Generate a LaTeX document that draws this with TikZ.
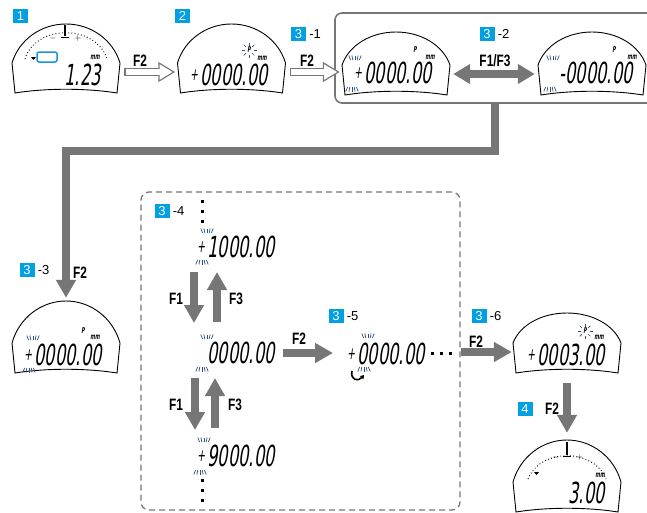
\documentclass[tikz,border=0pt]{standalone}
\usepackage{fontspec}
\setmainfont{Liberation Sans}
\newfontfamily\lcdfont[FakeStretch=0.56,FakeSlant=0.15]{DejaVu Sans}
\newfontfamily\keyfont[FakeStretch=0.72]{Liberation Sans}
\usetikzlibrary{arrows.meta,positioning,calc}

\definecolor{stepblue}{RGB}{0,160,227}
\definecolor{arrowgray}{RGB}{118,118,118}
\definecolor{blinkblue}{RGB}{50,80,120}
\definecolor{iconcyan}{RGB}{20,150,215}

% outline of a display, #2 = height of the dome
\newcommand{\dialframe}[2]{%
  \draw[line width=0.9pt, fill=white, shift={(#1.center)}]
    (-51,34) -- (-54,4) .. controls (-47,{-0.55*#2}) and (-25,-#2) .. (0,-#2)
    .. controls (25,-#2) and (47,{-0.55*#2}) .. (54,4) -- (51,34)
    .. controls (20,29) and (-20,29) .. cycle;}
% small sign in front of a readout
\newcommand{\lcdsign}[1]{\raisebox{5pt}{\fontsize{17}{17}\selectfont#1}\kern2.5pt}
% blinking strokes over / under a digit
\newcommand{\blinkup}[2]{\foreach \k in {-2,...,2} \draw[blink] ({#1+2.2*\k},#2) -- ++({0.9*\k},-4.5);}
\newcommand{\blinkdown}[2]{\foreach \k in {-2,...,2} \draw[blink] ({#1+2.2*\k},#2) -- ++({0.9*\k},4.5);}
% blinking P
\newcommand{\pblink}[3]{\node[unit] (#1) at (#2,#3) {P};
  \foreach \a in {0,45,...,315} \draw[blink] ($(#2,#3)+(\a:4.5)$) -- ($(#2,#3)+(\a:7.5)$);}

\begin{document}
\begin{tikzpicture}[x=1pt, y=-1pt,
    dial/.style={rectangle, minimum width=104pt, minimum height=68pt, inner sep=0pt},
    readout/.style={font=\lcdfont\fontsize{29}{29}\selectfont, inner sep=0pt, anchor=base east},
    unit/.style={font=\lcdfont\bfseries\fontsize{8}{8}\selectfont, inner sep=0pt},
    scalemark/.style={font=\fontsize{8}{8}\selectfont, inner sep=0pt},
    key/.style={font=\keyfont\bfseries\fontsize{16.5}{16.5}\selectfont, inner sep=0pt},
    stepbox/.style={fill=stepblue, text=white, font=\fontsize{13}{13}\selectfont, minimum width=15pt, minimum height=14pt, inner sep=0pt},
    substep/.style={font=\fontsize{13}{13}\selectfont, inner sep=0pt},
    bigarrow/.style={draw=arrowgray, line width=8pt, -{Triangle[width=19pt,length=18pt]}},
    hollowarrow/.style={draw=arrowgray, line width=8.5pt, shorten <=6pt, shorten >=4pt,
      -{Triangle[width=19pt,length=17pt]},
      postaction={draw=white, line width=6pt, shorten <=7.3pt, shorten >=6.6pt, -{Triangle[width=14.7pt,length=13.2pt]}}},
    blink/.style={draw=blinkblue, line width=0.7pt},
    groupbox/.style={draw=arrowgray, line width=1.6pt, rounded corners=7pt, minimum width=320pt, minimum height=90pt},
    loopbox/.style={draw=arrowgray, line width=1.3pt, dash pattern=on 6pt off 4pt, rounded corners=8pt, minimum width=319pt, minimum height=318pt}]
\useasboundingbox (0,0) rectangle (647,512);
\clip (0,0) rectangle (647,512);

% frames
\node[groupbox] (pair) at (495,58) {};
\node[loopbox] (loop) at (300.5,351) {};

% displays
\node[dial] (dial1) at (66,59) {};
\dialframe{dial1}{35}
\node[dial] (dial2) at (231.5,59) {};
\dialframe{dial2}{35}
\node[dial] (dial31) at (396,61) {};
\dialframe{dial31}{29}
\node[dial] (dial32) at (592,61) {};
\dialframe{dial32}{29}
\node[dial] (dial33) at (66,339) {};
\dialframe{dial33}{38}
\node[dial] (dial36) at (567,339) {};
\dialframe{dial36}{26}
\node[dial] (dial4) at (567,478) {};
\dialframe{dial4}{38}

% step numbers
\node[stepbox] (b1) at (20.5,16) {1};
\node[stepbox] (b2) at (182.5,16) {2};
\node[stepbox] (b31) at (298.5,34) {3};
\node[substep, right=3pt of b31] (s31) {-1};
\node[stepbox] (b32) at (487,34) {3};
\node[substep, right=3pt of b32] (s32) {-2};
\node[stepbox] (b33) at (27,270) {3};
\node[substep, right=3pt of b33] (s33) {-3};
\node[stepbox] (b34) at (162,211) {3};
\node[substep, right=3pt of b34] (s34) {-4};
\node[stepbox] (b35) at (336,316) {3};
\node[substep, right=3pt of b35] (s35) {-5};
\node[stepbox] (b36) at (479,316) {3};
\node[substep, right=3pt of b36] (s36) {-6};
\node[stepbox] (b4) at (525,409) {4};

% display 1
\draw[dash pattern=on 0.8pt off 2.4pt, line width=1pt] (25,59) .. controls (36,24) and (96,24) .. (107,59);
\draw[line width=1.3pt] (65,25) -- (65,36);
\draw[line width=0.6pt] (61,37) -- (69,37);
\node[scalemark] (minus1) at (53,38) {$-$};
\node[scalemark] (plus1) at (78,38) {$+$};
\draw[iconcyan, line width=1.5pt, rounded corners=2pt] (37,52) rectangle (57,62);
\fill (31,57) -- (36,57) -- (33.5,60) -- cycle;
\node[unit] (mm1) at (95,57) {mm};
\node[readout] (read1) at (101,85) {1.23};

% display 2
\pblink{p2}{249}{50}
\node[unit] (mm2) at (262,58) {mm};
\node[readout] (read2) at (268,85) {\lcdsign{+}0000.00};

% displays 3-1, 3-2
\node[unit] (p31) at (415,50) {P};
\node[unit] (mm31) at (430,57) {mm};
\node[readout] (read31) at (432,83) {\lcdsign{+}0000.00};
\blinkup{355}{60}
\blinkdown{352}{87}
\node[unit] (p32) at (614,50) {P};
\node[unit] (mm32) at (632,57) {mm};
\node[readout] (read32) at (633,83) {-0000.00};
\blinkup{553}{60}
\blinkdown{550}{87}

% display 3-3
\node[unit] (p33) at (83,331) {P};
\node[unit] (mm33) at (95,337) {mm};
\node[readout] (read33) at (102,365) {\lcdsign{+}0000.00};
\blinkup{33}{340}
\blinkdown{29}{368}

% digit setting 3-4
\node[readout] (read34a) at (275,257) {\lcdsign{+}1000.00};
\blinkup{207}{233}
\blinkdown{202}{260}
\node[readout] (read34b) at (275,363) {0000.00};
\blinkup{207}{339}
\blinkdown{202}{367}
\node[readout] (read34c) at (275,466) {\lcdsign{+}9000.00};
\blinkup{204}{442}
\blinkdown{200}{470}
\foreach \y in {201,211,221} \fill (200.5,\y-1.5) rectangle ++(3,3);
\foreach \y in {480,490,500} \fill (200.5,\y-1.5) rectangle ++(3,3);

% 3-5
\node[readout] (read35) at (425,364) {\lcdsign{+}0000.00};
\blinkup{368}{338}
\blinkdown{364}{367}
\draw[line width=1.6pt, -{Triangle[length=3.5pt,width=4.5pt]}] (352,371) .. controls (350,380) and (358,382) .. (364,375);
\foreach \x in {432,441,450} \fill (\x-1.5,351.5) rectangle ++(3,3);

% 3-6 and 4
\pblink{p36}{585}{331}
\node[unit] (mm36) at (599,337) {mm};
\node[readout] (read36) at (605,365) {\lcdsign{+}0003.00};
\draw[dash pattern=on 0.8pt off 2.4pt, line width=1pt] (528,479) .. controls (540,448) and (594,448) .. (606,479);
\draw[line width=1.3pt] (567,442) -- (567,455);
\draw[line width=0.6pt] (563,456) -- (571,456);
\node[scalemark] (minus4) at (556,457) {$-$};
\node[scalemark] (plus4) at (580,457) {$+$};
\fill (534,472) -- (539,472) -- (536.5,475) -- cycle;
\node[unit] (mm4) at (600,475) {mm};
\node[readout] (read4) at (605,503) {3.00};

% keys
\node[key] (k12) at (140,61) {F2};
\node[key] (k23) at (307,61) {F2};
\node[key] (k32) at (495,61) {F1/F3};
\node[key] (k33) at (80,273) {F2};
\node[key] (k41) at (176,299) {F1};
\node[key] (k43) at (236,299) {F3};
\node[key] (k51) at (176,405) {F1};
\node[key] (k53) at (235,405) {F3};
\node[key] (k35) at (299,339) {F2};
\node[key] (k36) at (476,342) {F2};
\node[key] (k4) at (552,409) {F2};

% arrows
\draw[hollowarrow] ($(dial1.east)+(0,13)$) -- ($(dial2.west)+(0,13)$);
\draw[hollowarrow] ($(dial2.east)+(0,13)$) -- ($(dial31.west)+(0,11)$);
\draw[bigarrow, {Triangle[width=19pt,length=17pt]}-{Triangle[width=19pt,length=17pt]}, shorten <=5pt, shorten >=5pt] ($(dial31.east)+(0,13)$) -- ($(dial32.west)+(0,13)$);
\draw[bigarrow, line width=7.5pt, shorten >=7pt] (pair.south) -- ++(0,47) -| (dial33.north);
\draw[bigarrow] ($(read34a.base east)+(-81,15)$) -- ($(read34b.base east)+(-81,-40)$);
\draw[bigarrow] ($(read34b.base east)+(-58,-41)$) -- ($(read34a.base east)+(-58,15)$);
\draw[bigarrow] ($(read34b.base east)+(-80,15)$) -- ($(read34c.base east)+(-80,-36)$);
\draw[bigarrow] ($(read34c.base east)+(-60,-38)$) -- ($(read34b.base east)+(-60,15)$);
\draw[bigarrow] ($(read34b.base east)+(8,-10)$) -- ($(read35.base east)+(-92,-11)$);
\draw[bigarrow, shorten >=3pt] ($(loop.east)+(0,1)$) -- ($(dial36.west)+(0,13)$);
\draw[bigarrow, shorten <=10pt, shorten >=11pt] (dial36.south) -- (dial4.north);
\end{tikzpicture}
\end{document}
